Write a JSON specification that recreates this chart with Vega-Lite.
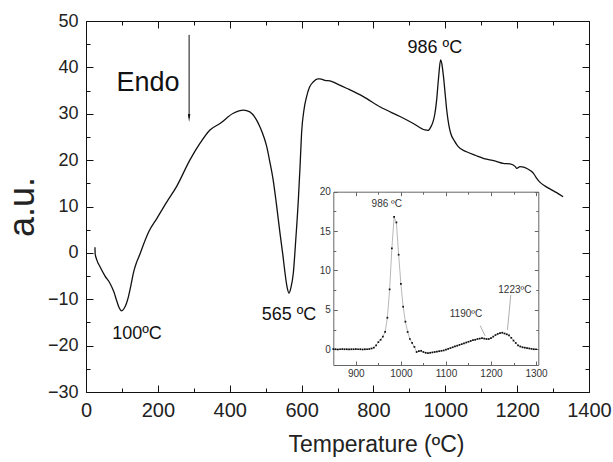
{
  "$schema": "https://vega.github.io/schema/vega-lite/v6.json",
  "width": 503,
  "height": 371,
  "autosize": "none",
  "padding": {"left": 86, "top": 21, "right": 24, "bottom": 70},
  "config": {
    "view": {"stroke": null},
    "font": "Liberation Sans",
    "axis": {"grid": false, "domainColor": "#111", "tickColor": "#111", "labelColor": "#222", "titleColor": "#222", "labelFlush": false, "labelOverlap": false, "titleFontWeight": "normal", "labelFont": "Liberation Sans", "titleFont": "Liberation Sans", "format": "d"}
  },
  "datasets": {
    "main": [
      {"T": 25, "V": 1.2}, {"T": 25.5, "V": -0.2}, {"T": 30, "V": -1.5}, {"T": 39, "V": -3.0},
      {"T": 53, "V": -5.0}, {"T": 67, "V": -6.6}, {"T": 78, "V": -8.5}, {"T": 85, "V": -10.2},
      {"T": 92, "V": -11.8}, {"T": 99, "V": -12.5}, {"T": 106, "V": -12.0}, {"T": 113, "V": -10.8},
      {"T": 118, "V": -9.5}, {"T": 125, "V": -7.0}, {"T": 133, "V": -4.0}, {"T": 141, "V": -2.0},
      {"T": 150, "V": -0.3}, {"T": 160, "V": 1.8}, {"T": 175, "V": 4.6}, {"T": 197, "V": 7.4},
      {"T": 225, "V": 11.0}, {"T": 252, "V": 14.3}, {"T": 289, "V": 20.0}, {"T": 317, "V": 23.6},
      {"T": 345, "V": 26.5}, {"T": 373, "V": 27.9}, {"T": 410, "V": 30.1}, {"T": 438, "V": 30.8},
      {"T": 456, "V": 30.4}, {"T": 472, "V": 29.0}, {"T": 484, "V": 27.2}, {"T": 495, "V": 25.0},
      {"T": 503, "V": 22.9}, {"T": 512, "V": 19.5}, {"T": 521, "V": 15.7}, {"T": 530, "V": 10.5},
      {"T": 540, "V": 4.2}, {"T": 548, "V": -0.5}, {"T": 554, "V": -4.4}, {"T": 560, "V": -7.5},
      {"T": 565, "V": -8.7}, {"T": 570, "V": -7.6}, {"T": 577, "V": -4.4}, {"T": 584, "V": 3.0},
      {"T": 591, "V": 11.4}, {"T": 596, "V": 19.0}, {"T": 600, "V": 25.8}, {"T": 607, "V": 31.0},
      {"T": 614, "V": 33.7}, {"T": 622, "V": 35.7}, {"T": 633, "V": 36.9}, {"T": 645, "V": 37.5},
      {"T": 651, "V": 37.5}, {"T": 665, "V": 37.2}, {"T": 679, "V": 37.1}, {"T": 700, "V": 36.4},
      {"T": 725, "V": 35.5}, {"T": 772, "V": 33.7}, {"T": 818, "V": 31.5}, {"T": 874, "V": 29.4},
      {"T": 911, "V": 27.9}, {"T": 943, "V": 26.5}, {"T": 952, "V": 26.4}, {"T": 960, "V": 27.2},
      {"T": 966, "V": 28.3}, {"T": 971, "V": 30.0}, {"T": 976, "V": 33.0}, {"T": 981, "V": 37.5},
      {"T": 987, "V": 41.6}, {"T": 991, "V": 40.5}, {"T": 995, "V": 38.0}, {"T": 1000, "V": 34.0},
      {"T": 1004, "V": 30.8}, {"T": 1010, "V": 27.5}, {"T": 1015, "V": 25.8}, {"T": 1025, "V": 24.2},
      {"T": 1036, "V": 22.9}, {"T": 1059, "V": 21.8}, {"T": 1085, "V": 21.0}, {"T": 1115, "V": 20.2},
      {"T": 1140, "V": 19.8}, {"T": 1161, "V": 19.3}, {"T": 1180, "V": 19.2}, {"T": 1195, "V": 18.6},
      {"T": 1199, "V": 18.2}, {"T": 1208, "V": 18.6}, {"T": 1218, "V": 18.5}, {"T": 1227, "V": 18.2},
      {"T": 1245, "V": 17.2}, {"T": 1255, "V": 16.0}, {"T": 1264, "V": 15.2}, {"T": 1278, "V": 14.4},
      {"T": 1291, "V": 13.8}, {"T": 1310, "V": 13.0}, {"T": 1328, "V": 12.1}
    ],
    "mainLabels": [
      {"T": 172.5, "V": 35.0, "label": "Endo", "size": "big"},
      {"T": 565, "V": -14.5, "label": "565 ºC", "size": "mid"},
      {"T": 142, "V": -18.6, "label": "100ºC", "size": "mid"},
      {"T": 971, "V": 43.2, "label": "986 ºC", "size": "mid"}
    ],
    "arrow": [{"T": 287, "V": 47, "V2": 29.1}],
    "arrowHead": [{"T": 287, "V": 29.1}],
    "inset": [
      {"T": 850, "V": 0.02}, {"T": 855, "V": 0.0}, {"T": 860, "V": -0.03}, {"T": 865, "V": 0.0},
      {"T": 870, "V": 0.02}, {"T": 875, "V": 0.0}, {"T": 880, "V": 0.0}, {"T": 885, "V": -0.02},
      {"T": 890, "V": 0.0}, {"T": 895, "V": 0.0}, {"T": 900, "V": 0.02}, {"T": 905, "V": 0.0},
      {"T": 910, "V": 0.0}, {"T": 915, "V": -0.03}, {"T": 920, "V": 0.0}, {"T": 925, "V": 0.0},
      {"T": 930, "V": 0.03}, {"T": 935, "V": 0.1}, {"T": 940, "V": 0.2}, {"T": 945, "V": 0.5},
      {"T": 950, "V": 0.9}, {"T": 955, "V": 1.2}, {"T": 960, "V": 1.6}, {"T": 965, "V": 2.2},
      {"T": 970, "V": 4.0}, {"T": 975, "V": 7.6}, {"T": 980, "V": 12.8}, {"T": 985, "V": 16.8},
      {"T": 990, "V": 16.1}, {"T": 995, "V": 12.0}, {"T": 1000, "V": 8.3}, {"T": 1005, "V": 5.4},
      {"T": 1010, "V": 3.5}, {"T": 1015, "V": 2.2}, {"T": 1020, "V": 1.3}, {"T": 1025, "V": 0.8},
      {"T": 1030, "V": 0.3}, {"T": 1035, "V": -0.35}, {"T": 1040, "V": -0.25}, {"T": 1045, "V": -0.2},
      {"T": 1050, "V": -0.35}, {"T": 1055, "V": -0.45}, {"T": 1060, "V": -0.5}, {"T": 1065, "V": -0.45},
      {"T": 1070, "V": -0.4}, {"T": 1075, "V": -0.35}, {"T": 1080, "V": -0.3}, {"T": 1085, "V": -0.25},
      {"T": 1090, "V": -0.2}, {"T": 1095, "V": -0.15}, {"T": 1100, "V": -0.05}, {"T": 1105, "V": 0.05},
      {"T": 1110, "V": 0.15}, {"T": 1115, "V": 0.25}, {"T": 1120, "V": 0.35}, {"T": 1125, "V": 0.45},
      {"T": 1130, "V": 0.55}, {"T": 1135, "V": 0.65}, {"T": 1140, "V": 0.75}, {"T": 1145, "V": 0.85},
      {"T": 1150, "V": 0.95}, {"T": 1155, "V": 1.05}, {"T": 1160, "V": 1.15}, {"T": 1165, "V": 1.2},
      {"T": 1170, "V": 1.3}, {"T": 1175, "V": 1.35}, {"T": 1180, "V": 1.4}, {"T": 1185, "V": 1.35},
      {"T": 1190, "V": 1.3}, {"T": 1195, "V": 1.3}, {"T": 1200, "V": 1.4}, {"T": 1205, "V": 1.6},
      {"T": 1210, "V": 1.8}, {"T": 1215, "V": 1.95}, {"T": 1220, "V": 2.05}, {"T": 1225, "V": 2.1},
      {"T": 1230, "V": 2.0}, {"T": 1235, "V": 1.9}, {"T": 1240, "V": 1.75}, {"T": 1245, "V": 1.45},
      {"T": 1250, "V": 1.1}, {"T": 1255, "V": 0.8}, {"T": 1260, "V": 0.5}, {"T": 1265, "V": 0.35},
      {"T": 1270, "V": 0.25}, {"T": 1275, "V": 0.2}, {"T": 1280, "V": 0.15}, {"T": 1285, "V": 0.1},
      {"T": 1290, "V": 0.05}, {"T": 1295, "V": 0.0}, {"T": 1300, "V": 0.0}
    ],
    "insetLabels": [
      {"T": 968.7, "V": 18.1, "label": "986 ºC"},
      {"T": 1144.5, "V": 4.15, "label": "1190ºC"},
      {"T": 1253, "V": 7.2, "label": "1223ºC"}
    ],
    "insetLeaders": [
      {"T": 1176, "V": 3.0, "T2": 1187, "V2": 1.7},
      {"T": 1244, "V": 6.9, "T2": 1236.5, "V2": 2.45}
    ]
  },
  "layer": [
    {
      "layer": [
        {
          "data": {"name": "main"},
          "mark": {"type": "line", "color": "#111", "strokeWidth": 1.3, "interpolate": "monotone"},
          "encoding": {
            "x": {"field": "T", "type": "quantitative", "sort": null, "scale": {"domain": [0, 1400], "nice": false, "zero": false},
              "axis": {"orient": "bottom", "values": [0, 200, 400, 600, 800, 1000, 1200, 1400], "tickSize": -7, "labelFontSize": 20, "labelPadding": 15,
                "title": "Temperature (ºC)", "titleFontSize": 23, "titleX": 290, "titleY": 59, "titleBaseline": "alphabetic", "titleAlign": "center"}},
            "y": {"field": "V", "type": "quantitative", "scale": {"domain": [-30, 50], "nice": false, "zero": false},
              "axis": {"orient": "left", "values": [-30, -20, -10, 0, 10, 20, 30, 40, 50], "tickSize": -7, "labelFontSize": 18, "labelPadding": 15,
                "title": "a.u.", "titleFontSize": 36, "titleX": -53, "titleY": 185.5, "titleBaseline": "alphabetic", "titleAngle": -90, "titleAlign": "center"}}
          }
        },
        {
          "data": {"name": "mainLabels"},
          "mark": {"type": "text", "color": "#111", "baseline": "alphabetic", "align": "center"},
          "encoding": {
            "x": {"field": "T", "type": "quantitative", "scale": {"domain": [0, 1400], "nice": false, "zero": false},
              "axis": {"orient": "bottom", "values": [100, 300, 500, 700, 900, 1100, 1300], "tickSize": -4, "labels": false, "domain": false, "title": null}},
            "y": {"field": "V", "type": "quantitative", "scale": {"domain": [-30, 50], "nice": false, "zero": false},
              "axis": {"orient": "left", "values": [-25, -15, -5, 5, 15, 25, 35, 45], "tickSize": -4, "labels": false, "domain": false, "title": null}},
            "text": {"field": "label"},
            "size": {"field": "size", "type": "nominal", "scale": {"domain": ["big", "mid"], "range": [27, 18]}, "legend": null}
          }
        },
        {
          "data": {"name": "arrow"},
          "mark": {"type": "rule", "color": "#111", "strokeWidth": 1},
          "encoding": {
            "x": {"field": "T", "type": "quantitative", "scale": {"domain": [0, 1400], "nice": false, "zero": false},
              "axis": {"orient": "top", "values": [0, 200, 400, 600, 800, 1000, 1200, 1400], "tickSize": -7, "labels": false, "domain": true, "title": null}},
            "y": {"field": "V", "type": "quantitative", "scale": {"domain": [-30, 50], "nice": false, "zero": false},
              "axis": {"orient": "right", "values": [-30, -20, -10, 0, 10, 20, 30, 40, 50], "tickSize": -7, "labels": false, "domain": true, "title": null}},
            "y2": {"field": "V2"}
          }
        },
        {
          "data": {"name": "arrowHead"},
          "mark": {"type": "point", "shape": "M-0.3,-1L0.3,-1L0,1Z", "filled": true, "color": "#111", "size": 64, "opacity": 1},
          "encoding": {
            "x": {"field": "T", "type": "quantitative", "scale": {"domain": [0, 1400], "nice": false, "zero": false},
              "axis": {"orient": "top", "values": [100, 300, 500, 700, 900, 1100, 1300], "tickSize": -4, "labels": false, "domain": false, "title": null}},
            "y": {"field": "V", "type": "quantitative", "scale": {"domain": [-30, 50], "nice": false, "zero": false},
              "axis": {"orient": "right", "values": [-25, -15, -5, 5, 15, 25, 35, 45], "tickSize": -4, "labels": false, "domain": false, "title": null}}
          }
        }
      ],
      "resolve": {"axis": {"x": "independent", "y": "independent"}}
    },
    {
      "layer": [
        {
          "data": {"name": "inset"},
          "mark": {"type": "line", "color": "#999", "strokeWidth": 0.7},
          "encoding": {
            "x": {"field": "T", "type": "quantitative", "scale": {"domain": [850, 1305], "range": [247.3, 452.3], "nice": false, "zero": false},
              "axis": {"orient": "bottom", "offset": -27, "values": [900, 1000, 1100, 1200, 1300], "tickSize": -4, "labelFontSize": 10, "labelPadding": 7, "labelColor": "#333", "domainColor": "#666", "tickColor": "#666", "title": null}},
            "y": {"field": "V", "type": "quantitative", "scale": {"domain": [-2, 20], "range": [344, 170.7], "nice": false, "zero": false},
              "axis": {"orient": "left", "offset": -247.3, "values": [0, 5, 10, 15, 20], "tickSize": -4, "labelFontSize": 10, "labelPadding": 7, "labelColor": "#333", "domainColor": "#666", "tickColor": "#666", "title": null}}
          }
        },
        {
          "data": {"name": "inset"},
          "mark": {"type": "square", "color": "#111", "size": 3, "opacity": 1},
          "encoding": {
            "x": {"field": "T", "type": "quantitative", "scale": {"domain": [850, 1305], "range": [247.3, 452.3], "nice": false, "zero": false},
              "axis": {"orient": "bottom", "offset": -27, "values": [950, 1050, 1150, 1250], "tickSize": -2.5, "labels": false, "domain": false, "tickColor": "#666", "title": null}},
            "y": {"field": "V", "type": "quantitative", "scale": {"domain": [-2, 20], "range": [344, 170.7], "nice": false, "zero": false},
              "axis": {"orient": "left", "offset": -247.3, "values": [2.5, 7.5, 12.5, 17.5], "tickSize": -2.5, "labels": false, "domain": false, "tickColor": "#666", "title": null}}
          }
        },
        {
          "data": {"name": "insetLabels"},
          "mark": {"type": "text", "color": "#333", "fontSize": 10, "baseline": "alphabetic", "align": "center"},
          "encoding": {
            "x": {"field": "T", "type": "quantitative", "scale": {"domain": [850, 1305], "range": [247.3, 452.3], "nice": false, "zero": false},
              "axis": {"orient": "top", "offset": -170.7, "values": [900, 1000, 1100, 1200, 1300], "tickSize": -4, "labels": false, "domain": true, "domainColor": "#666", "tickColor": "#666", "title": null}},
            "y": {"field": "V", "type": "quantitative", "scale": {"domain": [-2, 20], "range": [344, 170.7], "nice": false, "zero": false},
              "axis": {"orient": "right", "offset": -50.7, "values": [0, 5, 10, 15, 20], "tickSize": -4, "labels": false, "domain": true, "domainColor": "#666", "tickColor": "#666", "title": null}},
            "text": {"field": "label"}
          }
        },
        {
          "data": {"name": "insetLeaders"},
          "mark": {"type": "rule", "color": "#999", "strokeWidth": 0.8},
          "encoding": {
            "x": {"field": "T", "type": "quantitative", "scale": {"domain": [850, 1305], "range": [247.3, 452.3], "nice": false, "zero": false},
              "axis": {"orient": "top", "offset": -170.7, "values": [950, 1050, 1150, 1250], "tickSize": -2.5, "labels": false, "domain": false, "tickColor": "#666", "title": null}},
            "y": {"field": "V", "type": "quantitative", "scale": {"domain": [-2, 20], "range": [344, 170.7], "nice": false, "zero": false},
              "axis": {"orient": "right", "offset": -50.7, "values": [2.5, 7.5, 12.5, 17.5], "tickSize": -2.5, "labels": false, "domain": false, "tickColor": "#666", "title": null}},
            "x2": {"field": "T2"},
            "y2": {"field": "V2"}
          }
        }
      ],
      "resolve": {"axis": {"x": "independent", "y": "independent"}}
    }
  ],
  "resolve": {"scale": {"x": "independent", "y": "independent", "size": "independent"}}
}
